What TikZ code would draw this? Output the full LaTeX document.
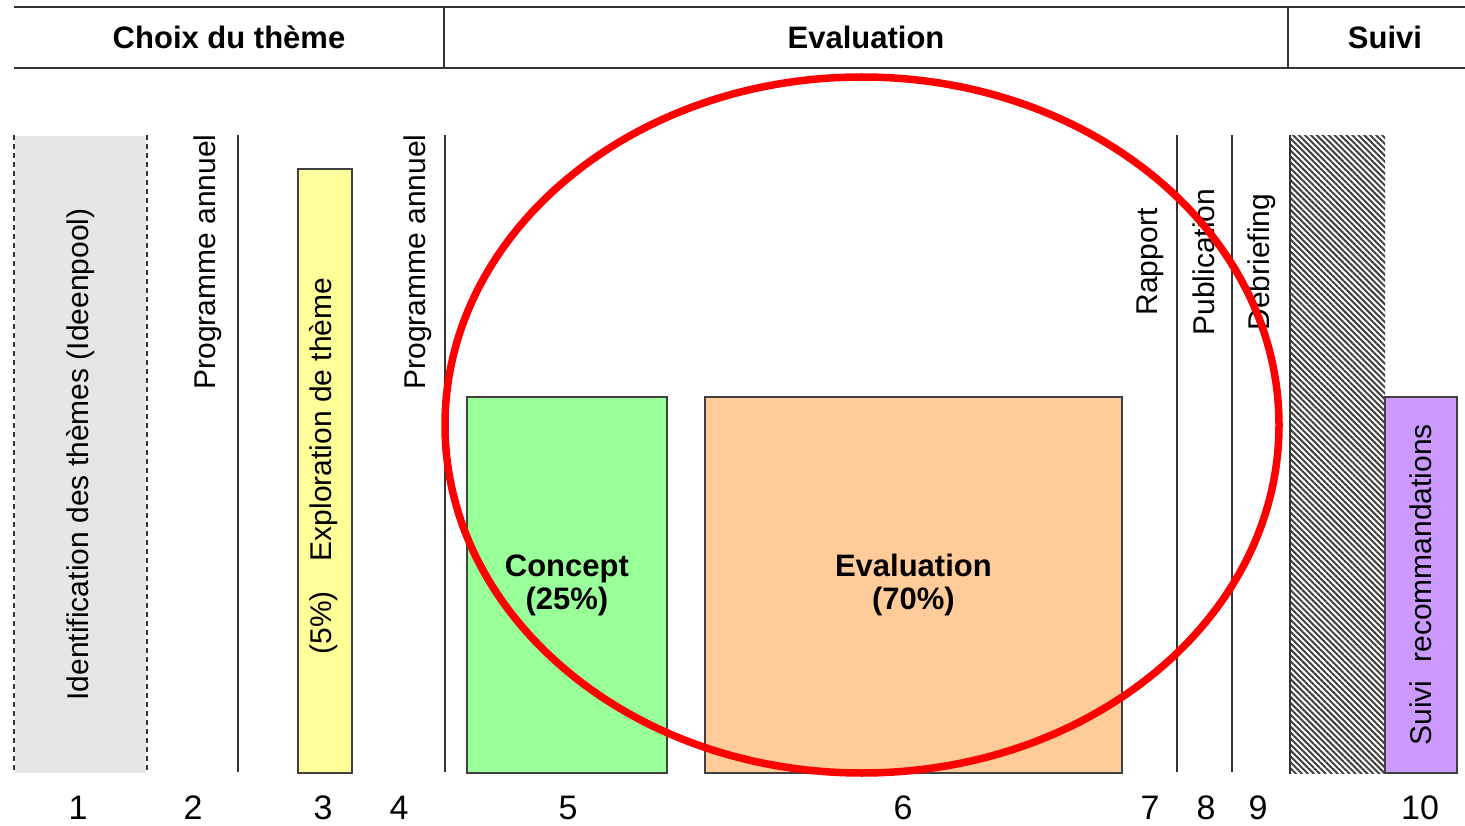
\documentclass[tikz,border=0pt]{standalone}
\usepackage{fontspec}
\setmainfont{Liberation Sans}
\usetikzlibrary{patterns.meta}

\begin{document}
\begin{tikzpicture}[x=1pt,y=-1pt,
  bar/.style={draw=black!75,line width=1.8,anchor=north west,inner sep=0},
  marker/.style={draw=black!80,line width=2},
  vtext/.style={rotate=90,inner sep=0,font=\fontsize{30}{34}\selectfont},
  btext/.style={align=center,font=\fontsize{31}{33}\selectfont\bfseries},
  numtext/.style={font=\fontsize{34}{36}\selectfont}]
\definecolor{idea}{HTML}{E6E6E6}
\definecolor{explo}{HTML}{FFFF99}
\definecolor{concept}{HTML}{99FF99}
\definecolor{evalc}{HTML}{FFCC99}
\definecolor{suivic}{HTML}{CC99FF}
\useasboundingbox (0,0) rectangle (1465,826);
% header
\draw[marker,line width=2.4] (14,7) -- (1465,7) (14,68) -- (1465,68)
  (444,7) -- (444,68) (1288,7) -- (1288,68);
\node[btext] (hchoix) at (229,37) {Choix du thème};
\node[btext] (heval) at (866,37) {Evaluation};
\node[btext] (hsuivi) at (1385,37) {Suivi};
% bars
\node[bar,draw=none,fill=idea,minimum width=131,minimum height=637] (ideas) at (14,135) {};
\draw[marker,line width=2.4,dash pattern=on 5pt off 4pt] (ideas.north west) -- (ideas.south west)
  (ideas.north east) -- (ideas.south east);
\node[vtext] (identif) at (ideas.center) {Identification des thèmes (Ideenpool)};
\node[bar,fill=explo,minimum width=54,minimum height=604] (explo) at (297,168) {};
\node[vtext] (explotxt) at (324,466) {(5\%)\hspace{1em}Exploration de thème};
\node[bar,fill=concept,minimum width=200,minimum height=376] (concept) at (466,396) {};
\node[btext] (concepttxt) at (concept.center) {Concept\\(25\%)};
\node[bar,fill=evalc,minimum width=417,minimum height=376] (evalbox) at (704,396) {};
\node[btext] (evaltxt) at (evalbox.center) {Evaluation\\(70\%)};
\node[bar,draw=none,pattern={Lines[angle=-45,distance=4.2pt,line width=2pt]},
  pattern color=black!75,minimum width=94,minimum height=637] (hatch) at (1290,135) {};
\draw[marker] (hatch.north west) -- (hatch.south west);
\node[bar,fill=suivic,minimum width=72,minimum height=376] (suivi) at (1384,396) {};
\node[vtext] (suivitxt) at (suivi.center) {Suivi\hspace{0.6em}recommandations};
% milestones
\foreach \xp in {238,445,1177,1232}
  {\draw[marker] (\xp,135) -- (\xp,772);}
\foreach \name/\txt/\xp in {prog1/Programme annuel/208,prog2/Programme annuel/418,
  rapport/Rapport/1150,publi/Publication/1204,debrief/Debriefing/1262}
  {\node[vtext] (\name) at (\xp,262) {\txt};}
\foreach \n/\xp in {1/78,2/193,3/323,4/399,5/568,6/903,7/1150,8/1206,9/1258,10/1420}
  {\node[numtext] (num\n) at (\xp,808) {\n};}
% highlight
\draw[red,line width=7.5] (862,425) ellipse [x radius=417,y radius=348];
\end{tikzpicture}
\end{document}
